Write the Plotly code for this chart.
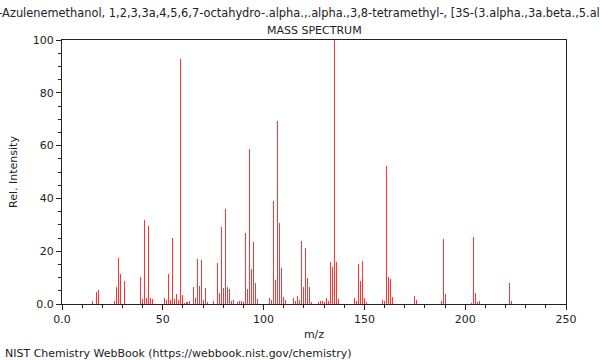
import plotly.graph_objects as go

mz = [15, 17, 18, 26, 27, 28, 29, 31,
      39, 40, 41, 42, 43, 44, 45,
      51, 52, 53, 54, 55, 56, 57, 58, 59, 60, 61, 62, 63,
      65, 66, 67, 68, 69, 70, 71, 72, 75, 77, 78, 79, 80, 81, 82, 83, 84, 85,
      87, 88, 89, 90, 91, 92, 93, 94, 95, 96, 97,
      103, 104, 105, 106, 107, 108, 109, 110, 111,
      115, 116, 117, 118, 119, 120, 121, 122, 123, 124,
      127, 128, 129, 130, 131, 132, 133, 134, 135, 136, 137,
      145, 146, 147, 148, 149, 150, 151,
      159, 160, 161, 162, 163, 164, 175, 176,
      188, 189, 190, 203, 204, 205, 206, 207, 222, 223]
intensity = [1.0, 4.4, 5.3, 1.0, 6.6, 17.4, 11.2, 8.7,
             10.1, 1.9, 31.7, 2.2, 29.5, 2.3, 1.8,
             2.4, 1.5, 11.2, 1.5, 25.0, 1.8, 3.7, 1.5, 92.9, 3.3, 0.5, 0.8, 1.0,
             6.3, 2.4, 17.0, 6.8, 16.8, 1.5, 6.0, 0.8, 1.1, 15.7, 4.1, 29.2, 6.1, 36.1, 6.4, 5.7, 1.0, 1.4,
             0.9, 1.0, 1.1, 0.6, 27.0, 5.5, 58.7, 13.4, 23.4, 7.8, 2.0,
             2.4, 1.5, 38.9, 9.2, 69.3, 30.7, 13.6, 2.7, 1.5,
             2.3, 1.0, 3.0, 1.5, 24.0, 6.4, 21.2, 10.0, 6.4, 0.8,
             0.8, 1.1, 1.3, 0.8, 2.4, 1.1, 16.0, 14.0, 100.0, 16.0, 1.8,
             2.3, 1.0, 15.0, 8.7, 16.3, 2.3, 0.6,
             1.5, 1.3, 52.3, 10.2, 9.5, 2.7, 3.0, 1.5,
             1.3, 24.5, 3.8, 0.5, 25.4, 4.2, 0.6, 1.0, 7.8, 1.2]

x_ticks = [0, 50, 100, 150, 200, 250]
x_labels = ["0.0", "50", "100", "150", "200", "250"]
y_ticks = [0, 20, 40, 60, 80, 100]
y_labels = ["0.0", "20", "40", "60", "80", "100"]
x_minor = [v for v in range(10, 250, 10) if v % 50 != 0]
y_minor = [v for v in range(5, 100, 5) if v % 20 != 0]

compound = ("5-Azulenemethanol, 1,2,3,3a,4,5,6,7-octahydro-.alpha.,.alpha.,3,8-tetramethyl-, "
            "[3S-(3.alpha.,3a.beta.,5.alpha.)]-")

FONT = "DejaVu Sans"
INK = "#222222"

fig = go.Figure()
fig.add_trace(go.Bar(x=mz, y=intensity, width=0.5,
                     marker=dict(color="rgba(255,40,40,0.95)", line=dict(width=0)),
                     hoverinfo="x+y"))

fig.update_layout(
    width=600, height=360,
    margin=dict(l=62, r=34, t=40, b=56, autoexpand=False),
    paper_bgcolor="white", plot_bgcolor="white",
    showlegend=False,
    font=dict(family=FONT, size=11, color=INK),
    bargap=0,
)
fig.update_xaxes(
    range=[0, 250], tickmode="array", tickvals=x_ticks, ticktext=x_labels,
    ticks="outside", ticklen=5, tickwidth=1, tickcolor=INK,
    showline=True, linecolor=INK, linewidth=1, mirror=True,
    showgrid=False, zeroline=False, automargin=False,
    minor=dict(tickmode="array", tickvals=x_minor, ticks="outside", ticklen=3,
               tickcolor=INK, showgrid=False),
    title=dict(text="m/z", font=dict(size=11), standoff=5),
    tickfont=dict(size=11),
)
fig.update_yaxes(
    range=[0, 100], tickmode="array", tickvals=y_ticks, ticktext=y_labels,
    ticks="outside", ticklen=5, tickwidth=1, tickcolor=INK,
    showline=True, linecolor=INK, linewidth=1, mirror=True,
    showgrid=False, zeroline=False, automargin=False,
    minor=dict(tickmode="array", tickvals=y_minor, ticks="outside", ticklen=3,
               tickcolor=INK, showgrid=False),
    title=dict(text="Rel. Intensity", font=dict(size=11), standoff=12),
    tickfont=dict(size=11),
)

fig.add_annotation(text=compound, xref="paper", yref="paper", x=0.5, y=1 + 27 / 264,
                   xanchor="center", yanchor="middle", showarrow=False,
                   font=dict(size=11.4, color=INK))
fig.add_annotation(text="MASS SPECTRUM", xref="paper", yref="paper", x=0.5, y=1 + 10 / 264,
                   xanchor="center", yanchor="middle", showarrow=False,
                   font=dict(size=11, color=INK))
fig.add_annotation(text="NIST Chemistry WebBook (https://webbook.nist.gov/chemistry)",
                   xref="paper", yref="paper", x=-59 / 504, y=-(353 - 304) / 264,
                   xanchor="left", yanchor="middle", showarrow=False,
                   font=dict(size=11, color=INK))

fig.write_html("out.html", config={"displayModeBar": False},
               post_script="document.body.style.margin='0px';document.body.style.overflow='hidden';")
